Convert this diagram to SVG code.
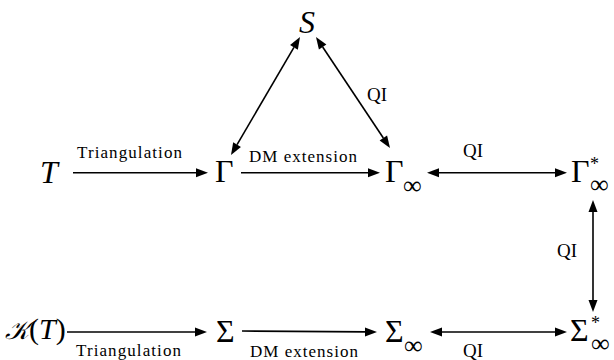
<svg xmlns="http://www.w3.org/2000/svg" width="614" height="360" viewBox="0 0 614 360" font-family="'Liberation Serif', serif">
<style>
text{font-family:'Liberation Serif',serif;fill:#000}
.m{font-size:32px}
.i{font-style:italic}
.sub{font-size:26px}
.sup{font-size:18px}
.lb{font-size:17px}
.q{font-size:19px}
.c{stroke:#000;stroke-width:1.6;fill:none}
.h{fill:#000;stroke:none}
</style>
<g id="connectors">
<line class="c" x1="73" y1="172.7" x2="197" y2="172.7"/>
<path class="h" d="M208,172.7 L196,168.2 L196,177.2 z"/>
<line class="c" x1="241" y1="172.7" x2="369" y2="172.7"/>
<path class="h" d="M380,172.7 L368,168.2 L368,177.2 z"/>
<line class="c" x1="438" y1="172.7" x2="556" y2="172.7"/>
<path class="h" d="M427,172.7 L439,168.2 L439,177.2 z"/>
<path class="h" d="M567,172.7 L555,168.2 L555,177.2 z"/>
<line class="c" x1="293.94" y1="47.36" x2="237.06" y2="144.64"/>
<path class="h" d="M300,37 L297.82,49.63 L290.06,45.09 z"/>
<path class="h" d="M231,155 L240.94,146.91 L233.18,142.37 z"/>
<line class="c" x1="322.66" y1="46.99" x2="383.34" y2="138.01"/>
<path class="h" d="M316,37 L326.40,44.49 L318.92,49.49 z"/>
<path class="h" d="M390,148 L387.08,135.51 L379.60,140.51 z"/>
<line class="c" x1="593" y1="211" x2="593" y2="301"/>
<path class="h" d="M593,200 L588.5,212 L597.5,212 z"/>
<path class="h" d="M593,312 L588.5,300 L597.5,300 z"/>
<line class="c" x1="67" y1="332" x2="196" y2="332"/>
<path class="h" d="M207,332 L195,327.5 L195,336.5 z"/>
<line class="c" x1="242" y1="331" x2="366" y2="331.9"/>
<path class="h" d="M377,332 L365,327.5 L365,336.5 z"/>
<line class="c" x1="441" y1="332" x2="556" y2="332"/>
<path class="h" d="M430,332 L442,327.5 L442,336.5 z"/>
<path class="h" d="M567,332 L555,327.5 L555,336.5 z"/>
</g>
<g id="labels">
<text class="lb" x="77" y="158" textLength="105" lengthAdjust="spacing">Triangulation</text>
<text class="lb" x="249" y="162" textLength="108" lengthAdjust="spacing">DM extension</text>
<text class="q" x="463" y="157">QI</text>
<text class="q" x="367" y="101">QI</text>
<text class="q" x="557" y="257">QI</text>
<text class="lb" x="76" y="356" textLength="105" lengthAdjust="spacing">Triangulation</text>
<text class="lb" x="250" y="357" textLength="108" lengthAdjust="spacing">DM extension</text>
<text class="q" x="463" y="357">QI</text>
</g>
<g id="node-S"><text class="m i" x="299" y="33">S</text></g>
<g id="node-T"><text class="m i" x="40" y="183">T</text></g>
<g id="node-Gamma"><text class="m" x="215" y="182">Γ</text></g>
<g id="node-GammaInf"><text class="m" x="385" y="182">Γ</text><text class="sub" x="403" y="194">∞</text></g>
<g id="node-GammaStarInf"><text class="m" x="571" y="182">Γ</text><text class="sup" x="590" y="170">*</text><text class="sub" x="590" y="193">∞</text></g>
<g id="node-KT"><text class="m" x="5" y="339" font-size="30"><tspan class="i" font-size="26" style="font-size:26px">𝒦</tspan><tspan style="font-size:30px">(</tspan><tspan class="i" style="font-size:30px">T</tspan><tspan style="font-size:30px">)</tspan></text></g>
<g id="node-Sigma"><text class="m" x="216" y="342">Σ</text></g>
<g id="node-SigmaInf"><text class="m" x="385" y="342">Σ</text><text class="sub" x="404" y="354">∞</text></g>
<g id="node-SigmaStarInf"><text class="m" x="570" y="341">Σ</text><text class="sup" x="591" y="329">*</text><text class="sub" x="591" y="352">∞</text></g>
</svg>
